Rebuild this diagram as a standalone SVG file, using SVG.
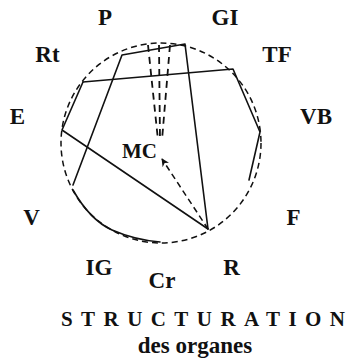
<svg xmlns="http://www.w3.org/2000/svg" width="350" height="362" viewBox="0 0 350 362">
<style>
.lbl{font-family:"Liberation Serif","Times New Roman",serif;font-weight:bold;font-size:23px;fill:#111;text-anchor:middle}
.ln{fill:none;stroke:#111;stroke-width:1.6;stroke-linejoin:round;stroke-linecap:round}
.dash{fill:none;stroke:#111;stroke-width:1.5;stroke-dasharray:6 4}
.vd{fill:none;stroke:#111;stroke-width:1.8;stroke-dasharray:7 5}
</style>
<defs>
<marker id="ah" viewBox="0 0 10 10" refX="9" refY="5" markerWidth="8" markerHeight="8" orient="auto" markerUnits="userSpaceOnUse">
<path d="M0,0 L10,5 L0,10 L3,5 z" fill="#111"/>
</marker>
</defs>
<rect width="350" height="362" fill="#fff"/>
<g id="connectors">
<circle class="dash" cx="161" cy="143" r="100"/>
<polyline class="ln" points="73,185 122,55 185,44 208,229"/>
<polyline class="ln" points="83,82 233,69 260,132 249,180"/>
<polyline class="ln" points="83,82 62,130 208,229"/>
<path class="ln" d="M73,190 Q90,220 112,230 Q135,240 160,242"/>
<line class="dash" x1="208" y1="229" x2="162" y2="159" marker-end="url(#ah)"/>
<line class="vd" x1="148" y1="45" x2="158" y2="140"/>
<line class="vd" x1="159" y1="45" x2="160" y2="140"/>
<line class="vd" x1="170" y1="45" x2="162" y2="140"/>
</g>
<g id="node-P"><text class="lbl" x="105" y="25">P</text></g>
<g id="node-GI"><text class="lbl" x="225" y="25">GI</text></g>
<g id="node-Rt"><text class="lbl" x="47.5" y="62">Rt</text></g>
<g id="node-TF"><text class="lbl" x="277" y="62">TF</text></g>
<g id="node-E"><text class="lbl" x="17.5" y="124">E</text></g>
<g id="node-VB"><text class="lbl" x="316" y="124">VB</text></g>
<g id="node-MC"><text class="lbl" x="122" y="158" style="text-anchor:start;font-size:21px">MC</text></g>
<g id="node-V"><text class="lbl" x="31.5" y="225">V</text></g>
<g id="node-F"><text class="lbl" x="293.5" y="225">F</text></g>
<g id="node-IG"><text class="lbl" x="99" y="275">IG</text></g>
<g id="node-Cr"><text class="lbl" x="162" y="288">Cr</text></g>
<g id="node-R"><text class="lbl" x="231.5" y="275">R</text></g>
<g id="title">
<text class="lbl" x="61" y="326" style="text-anchor:start;font-size:21px" textLength="284" lengthAdjust="spacing">STRUCTURATION</text>
<text class="lbl" x="195" y="353" style="font-size:23px">des organes</text>
</g>
</svg>
